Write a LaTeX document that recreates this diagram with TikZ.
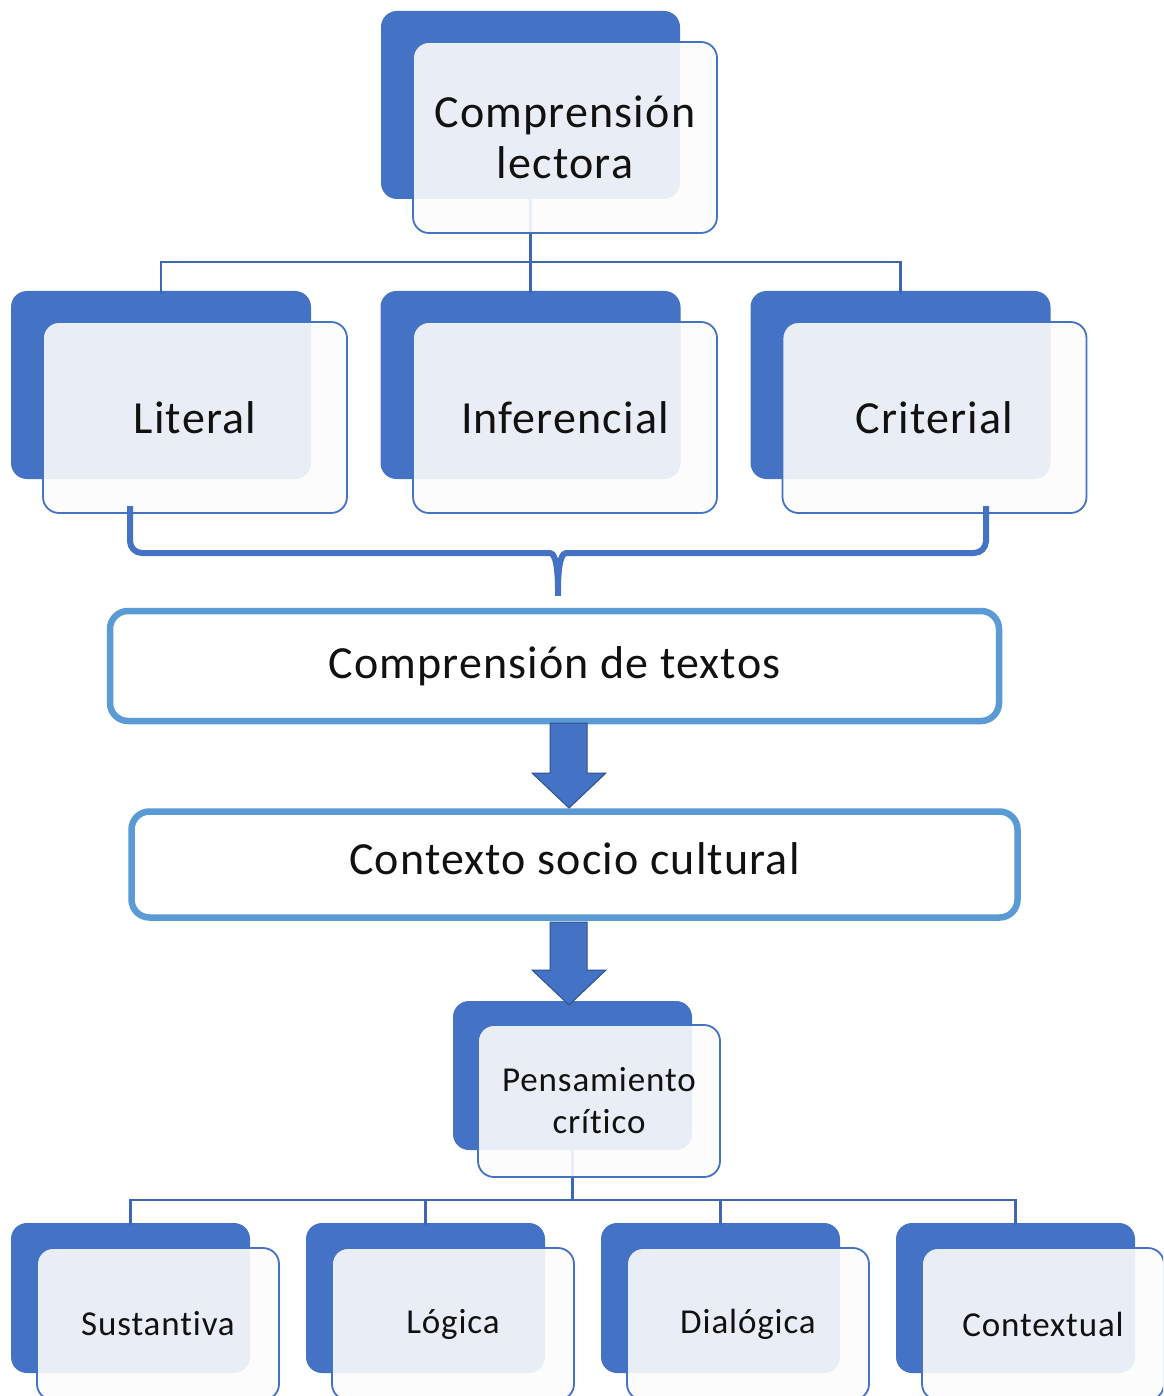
\documentclass[tikz,border=0pt]{standalone}
\usepackage{fontspec}
\setmainfont[LetterSpace=2.5,Ligatures=CommonOff]{Carlito}
\definecolor{dblue}{HTML}{4472C4}
\definecolor{lblue}{HTML}{3E67B1}
\definecolor{sblue}{HTML}{5B9BD5}
\definecolor{ablue}{HTML}{2F528F}
\definecolor{ffill}{HTML}{FCFCFC}
\definecolor{txt}{HTML}{111111}
\begin{document}
\begin{tikzpicture}[x=1pt,y=-1pt,
  backbox/.style={rectangle, rounded corners=16pt, fill=dblue, draw=none, inner sep=0pt},
  frontbox/.style={rectangle, rounded corners=16pt, fill=ffill, fill opacity=0.9, text opacity=1, draw=dblue, line width=1.8pt, inner sep=0pt, align=center, text=txt},
  bigtxt/.style={font=\fontsize{46}{51}\selectfont},
  smalltxt/.style={font=\fontsize{35}{42}\selectfont},
  conn/.style={draw=lblue, line width=2.6pt},
  widebox/.style={rectangle, rounded corners=18pt, draw=sblue, line width=6.5pt, fill=white, inner sep=0pt, text=txt, font=\fontsize{46}{51}\selectfont},
  blockarrow/.style={fill=dblue, draw=ablue, line width=1pt, line join=miter},
  bracepath/.style={draw=dblue, line width=6pt}
]
\useasboundingbox (0,0) rectangle (1163,1396);
\clip (0,0) rectangle (1163,1396);
\fill[white] (0,0) rectangle (1163,1396);

% ---------- back boxes ----------
\node[backbox, minimum width=299pt, minimum height=188pt] (bt) at (530.5,105) {};
\node[backbox, minimum width=300pt, minimum height=188pt] (bl) at (161,385) {};
\node[backbox, minimum width=300pt, minimum height=188pt] (bi) at (530.5,385) {};
\node[backbox, minimum width=300pt, minimum height=188pt] (bc) at (900.5,385) {};
\node[backbox, minimum width=239pt, minimum height=149pt] (bp) at (572.5,1075.5) {};
\node[backbox, minimum width=239pt, minimum height=150pt] (bs) at (130.5,1298) {};
\node[backbox, minimum width=239pt, minimum height=150pt] (blo) at (425.5,1298) {};
\node[backbox, minimum width=239pt, minimum height=150pt] (bd) at (720.5,1298) {};
\node[backbox, minimum width=239pt, minimum height=150pt] (bx) at (1015.5,1298) {};

% ---------- connectors ----------
\coordinate (j1) at (530.5,262);
\draw[conn] (bt.south) -- (j1);
\draw[conn] (j1) -| ([yshift=-3pt]bl.north);
\draw[conn] (j1) -- ([yshift=-3pt]bi.north);
\draw[conn] (j1) -| ([yshift=-3pt]bc.north);
\coordinate (j2) at (572.5,1200);
\draw[conn] (bp.south) -- (j2);
\draw[conn] (j2) -| ([yshift=-2pt]bs.north);
\draw[conn] (j2) -| ([yshift=-2pt]blo.north);
\draw[conn] (j2) -| ([yshift=-2pt]bd.north);
\draw[conn] (j2) -| ([yshift=-2pt]bx.north);

% ---------- front boxes ----------
\node[frontbox, bigtxt, minimum width=304pt, minimum height=191pt] (ft) at (565,137.5) {Comprensión\\lectora};
\node[frontbox, bigtxt, minimum width=304pt, minimum height=191pt] (fl) at (195,417.5) {Literal};
\node[frontbox, bigtxt, minimum width=304pt, minimum height=191pt] (fi) at (565,417.5) {Inferencial};
\node[frontbox, bigtxt, minimum width=304pt, minimum height=191pt] (fc) at (934.5,417.5) {Criterial};
\node[frontbox, smalltxt, minimum width=242pt, minimum height=152pt] (fp) at (599,1101) {Pensamiento\\crítico};
\node[frontbox, smalltxt, minimum width=242pt, minimum height=152pt] (fs) at (158,1324) {Sustantiva};
\node[frontbox, smalltxt, minimum width=242pt, minimum height=152pt] (flo) at (453,1324) {Lógica};
\node[frontbox, smalltxt, minimum width=242pt, minimum height=152pt] (fd) at (748,1324) {Dialógica};
\node[frontbox, smalltxt, minimum width=242pt, minimum height=152pt] (fx) at (1043,1324) {Contextual};

% ---------- wide boxes ----------
\node[widebox, minimum width=889pt, minimum height=110pt] (ct) at (554.5,666) {Comprensión de textos};
\node[widebox, minimum width=886pt, minimum height=106pt, text depth=12pt] (cs) at (574.5,864.5) {Contexto socio cultural};

% ---------- brace ----------
\coordinate (br1) at (130,506);
\coordinate (br2) at (986,506);
\coordinate (brtip) at (558,603);
\draw[bracepath, rounded corners=12pt] (br1) -- (130,553) -- (538,553)
  .. controls (553,553) and (558,558) .. (brtip)
  .. controls (558,558) and (563,553) .. (578,553) -- (986,553) -- (br2);

% ---------- block arrows ----------
\draw[blockarrow] (550,723) -- (587,723) -- (587,773) -- (606,773) -- (569,808) -- (532,773) -- (550,773) -- cycle;
\draw[blockarrow] (550,922) -- (587,922) -- (587,970) -- (606,970) -- (569,1005) -- (532,970) -- (550,970) -- cycle;
\end{tikzpicture}
\end{document}
